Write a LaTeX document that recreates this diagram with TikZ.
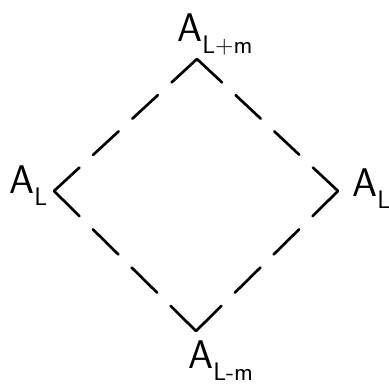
\documentclass[tikz,border=0pt]{standalone}
\usetikzlibrary{positioning}
\tikzset{
  side/.style={line width=2pt, dash pattern=on #1 off 14pt, line cap=round},
  biglabel/.style={font=\sffamily\fontsize{30}{30}\selectfont, inner sep=0pt, anchor=base west}
}
\newcommand{\sublab}[1]{\raisebox{-9pt}{\fontsize{19}{19}\selectfont #1}}

\begin{document}
\begin{tikzpicture}[x=0.75pt, y=-0.75pt]
\useasboundingbox (0,0) rectangle (389,385);
% corners of the diamond
\coordinate (vtop) at (197,59);
\coordinate (vleft) at (54,191);
\coordinate (vright) at (338,191);
\coordinate (vbot) at (196,331);
% labels
\node[biglabel] (Atop) at (177,42) {A\sublab{L+m}};
\node[biglabel] (Aleft) at (9,193) {A\sublab{L}};
\node[biglabel] (Aright) at (352,196) {A\sublab{L}};
\node[biglabel] (Abot) at (188,368) {A\sublab{L-m}};
% sides, four dashes each
\draw[side=26pt] (vtop) -- (vleft);
\draw[side=25.7pt] (vtop) -- (vright);
\draw[side=26.9pt] (vbot) -- (vleft);
\draw[side=26.9pt] (vbot) -- (vright);
\end{tikzpicture}
\end{document}
